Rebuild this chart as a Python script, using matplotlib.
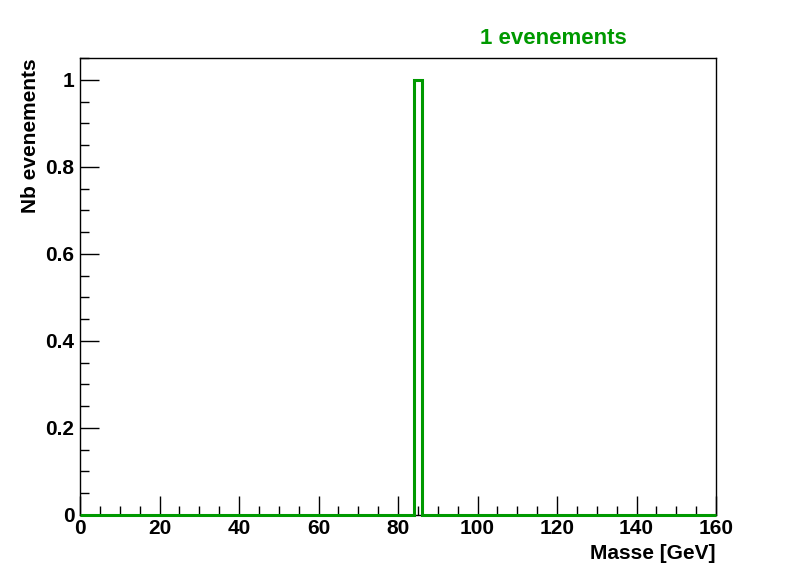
import numpy as np
import matplotlib.pyplot as plt
from matplotlib.ticker import MultipleLocator

# one reconstructed event, mass in GeV
masses = [85.0]
bin_edges = np.linspace(0, 160, 81)
x_ticks = [0, 20, 40, 60, 80, 100, 120, 140, 160]
y_ticks = [0, 0.2, 0.4, 0.6, 0.8, 1]

GREEN = "#009900"

plt.rcParams["font.family"] = ["Liberation Sans", "DejaVu Sans"]
plt.rcParams["font.weight"] = "bold"

fig = plt.figure(figsize=(7.96, 5.72), dpi=100)
ax = fig.add_axes([80 / 796, 57 / 572, 636 / 796, 457 / 572])

ax.hist(masses, bins=bin_edges, histtype="step", color=GREEN, linewidth=2.2,
        clip_on=False, zorder=3)

ax.set_xlim(0, 160)
ax.set_ylim(0, 1.05)
ax.set_xticks(x_ticks)
ax.set_xticklabels([str(t) for t in x_ticks])
ax.set_yticks(y_ticks)
ax.set_yticklabels(["0", "0.2", "0.4", "0.6", "0.8", "1"])
ax.xaxis.set_minor_locator(MultipleLocator(5))
ax.yaxis.set_minor_locator(MultipleLocator(0.05))
ax.tick_params(which="both", direction="in", top=False, right=False,
               labelsize=15, width=1, color="black")
ax.tick_params(which="major", length=13.5)
ax.tick_params(which="minor", length=6.8)
ax.tick_params(axis="x", pad=3)
ax.tick_params(axis="y", pad=4)
for lbl in ax.get_xticklabels() + ax.get_yticklabels():
    lbl.set_fontweight("bold")
for sp in ax.spines.values():
    sp.set_linewidth(1)

ax.set_xlabel("Masse [GeV]", fontsize=15, fontweight="bold", loc="right", labelpad=4)
ax.set_ylabel("Nb evenements", fontsize=15, fontweight="bold", loc="top", labelpad=4)

fig.text(553 / 796, 1 - 39 / 572, f"{len(masses)} evenements", color=GREEN,
         fontsize=16, fontweight="bold", ha="center", va="center")

fig.savefig("out.png", dpi=100, facecolor="white")
